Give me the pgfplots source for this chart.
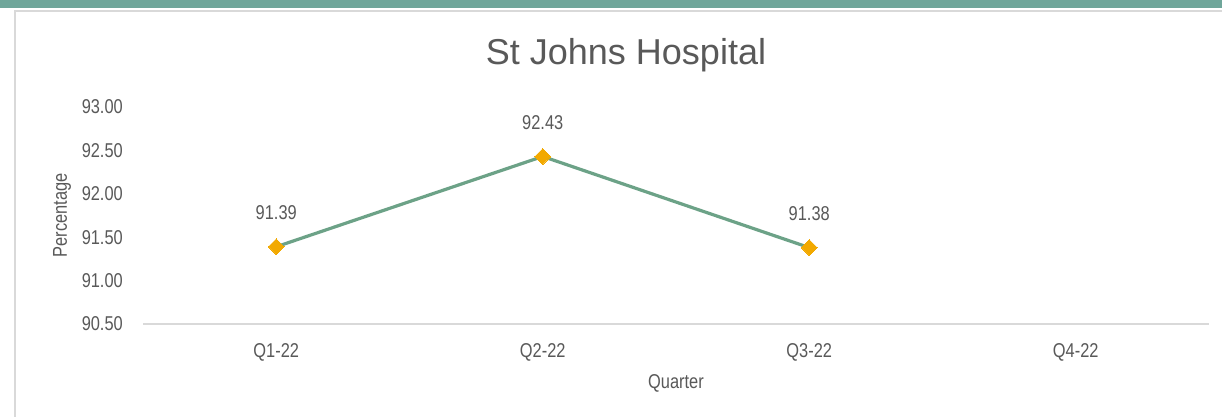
\documentclass[border=0pt]{standalone}
\usepackage{pgfplots}
\pgfplotsset{compat=1.18}
\usepackage{fontspec}
\setmainfont{Liberation Sans}
\newfontfamily\narrowfont[FakeStretch=0.82]{Liberation Sans}
\definecolor{txt}{HTML}{595959}
\definecolor{topbar}{HTML}{6FA69A}
\definecolor{border}{HTML}{D9D9D9}
\definecolor{linegreen}{HTML}{6CA287}
\definecolor{mkorange}{HTML}{F2A900}
\begin{document}
\begin{tikzpicture}[x=1pt,y=1pt]
\useasboundingbox (0,0) rectangle (1222,417);
\fill[white] (0,0) rectangle (1222,417);
\fill[topbar] (0,409) rectangle (1222,417);
\draw[border, line width=2pt] (15,0) -- (15,405.5) -- (1222,405.5);
\node[txt, font=\fontsize{36}{40}\selectfont] at (626,362) {St Johns Hospital};
\begin{axis}[
  at={(143pt,93pt)}, anchor=south west,
  scale only axis, width=1066pt, height=217pt,
  xmin=-0.5, xmax=3.5, ymin=90.5, ymax=93,
  axis x line*=bottom, axis y line*=left,
  y axis line style={draw=none},
  x axis line style={draw=border, line width=1.5pt, -},
  major tick length=0pt,
  xtick={0,1,2,3}, xticklabels={Q1-22,Q2-22,Q3-22,Q4-22},
  ytick={90.5,91,91.5,92,92.5,93},
  /pgf/number format/assume math mode=true,
  yticklabel={\pgfmathprintnumber[fixed,fixed zerofill,precision=2]{\tick}},
  tick label style={font=\narrowfont\fontsize{20}{24}\selectfont, text=txt},
  yticklabel style={anchor=east, inner sep=0pt, xshift=-20pt},
  xticklabel style={anchor=north, inner sep=0pt, yshift=-19pt},
  xlabel={Quarter}, ylabel={Percentage},
  label style={font=\narrowfont\fontsize{20}{24}\selectfont, text=txt},
  xlabel style={at={(axis description cs:0.5,-0.272)}, anchor=center},
  ylabel style={at={(axis description cs:-0.076,0.5)}, anchor=center},
  clip=false,
  nodes near coords,
  point meta=explicit symbolic,
  every node near coord/.style={font=\narrowfont\fontsize{20}{24}\selectfont, text=txt, anchor=center, yshift=34pt},
]
\addplot[linegreen, line width=3.2pt, mark=square*, mark size=5.6pt,
  mark options={rotate=45, fill=mkorange, draw=mkorange, line width=0pt}]
  coordinates {(0,91.39)[91.39] (1,92.43)[92.43] (2,91.38)[91.38]};
\end{axis}
\end{tikzpicture}
\end{document}
